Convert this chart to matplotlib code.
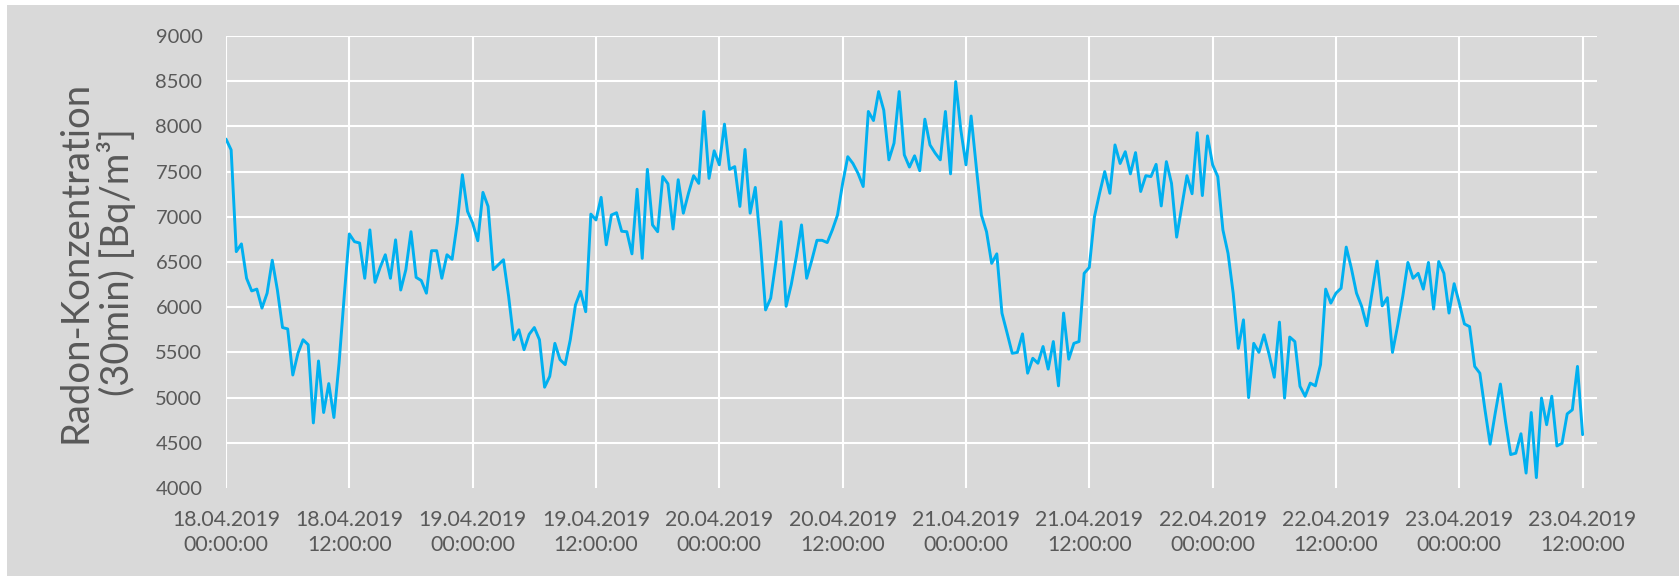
import numpy as np
import pandas as pd
import matplotlib
matplotlib.use("Agg")
import matplotlib.pyplot as plt
import matplotlib.dates as mdates
from matplotlib.patches import Rectangle

plt.rcParams['font.family'] = ['Lato', 'DejaVu Sans']

# Radon-Konzentration, 30-min-Werte ab 18.04.2019 00:00 (je Zeile 12 Stunden)
radon = [
    7860, 7740, 6615, 6700, 6320, 6180, 6200, 5990, 6155, 6520, 6190, 5775,
    5760, 5250, 5490, 5640, 5585, 4720, 5405, 4835, 5155, 4780, 5380, 6120,
    6810, 6725, 6710, 6320, 6855, 6275, 6440, 6580, 6320, 6745, 6190, 6415,
    6835, 6330, 6295, 6155, 6625, 6625, 6320, 6580, 6530, 6930, 7465, 7060,
    6930, 6735, 7270, 7115, 6415, 6470, 6525, 6120, 5640, 5750, 5530, 5700,
    5775, 5640, 5115, 5235, 5600, 5420, 5365, 5640, 6025, 6175, 5950, 7030,
    6965, 7215, 6690, 7020, 7045, 6840, 6835, 6590, 7305, 6540, 7525, 6910,
    6835, 7445, 7365, 6865, 7410, 7040, 7260, 7455, 7370, 8165, 7425, 7730,
    7575, 8025, 7525, 7555, 7115, 7745, 7040, 7325, 6710, 5970, 6100, 6500,
    6945, 6010, 6250, 6560, 6910, 6320, 6520, 6740, 6740, 6715, 6855, 7020,
    7370, 7665, 7590, 7480, 7335, 8165, 8065, 8385, 8180, 7630, 7815, 8385,
    7685, 7550, 7675, 7510, 8080, 7795, 7705, 7630, 8165, 7475, 8495, 7960,
    7575, 8115, 7555, 7020, 6835, 6485, 6590, 5935, 5715, 5490, 5500, 5705,
    5270, 5435, 5380, 5565, 5315, 5620, 5130, 5935, 5425, 5600, 5620, 6375,
    6440, 7000, 7260, 7500, 7260, 7795, 7590, 7720, 7475, 7710, 7280, 7455,
    7445, 7580, 7120, 7610, 7370, 6775, 7115, 7455, 7255, 7930, 7235, 7895,
    7575, 7445, 6855, 6595, 6155, 5545, 5860, 5000, 5600, 5500, 5695, 5475,
    5225, 5835, 4995, 5670, 5620, 5125, 5015, 5160, 5130, 5365, 6200, 6045,
    6155, 6210, 6665, 6430, 6155, 6010, 5795, 6150, 6510, 6015, 6105, 5500,
    5795, 6120, 6495, 6320, 6375, 6200, 6495, 5980, 6505, 6375, 5935, 6260,
    6045, 5815, 5785, 5345, 5270, 4865, 4485, 4830, 5150, 4735, 4370, 4385,
    4600, 4165, 4835, 4115, 4995, 4700, 5015, 4465, 4495, 4820, 4865, 5345,
    4590,
]
zeit = pd.date_range("2019-04-18 00:00", periods=len(radon), freq="30min")

y_ticks = np.arange(4000, 9001, 500)

fig = plt.figure(figsize=(16.79, 5.76), dpi=100, facecolor="white")
# grauer Diagrammbereich (oben und links ein schmaler weisser Rand)
fig.patches.append(Rectangle((7 / 1679, 0), 1672 / 1679, 571 / 576,
                             transform=fig.transFigure, facecolor="#D9D9D9",
                             edgecolor="none", zorder=-10))

ax = fig.add_axes([226 / 1679, 88 / 576, 1371 / 1679, 452 / 576])
ax.set_facecolor("#D9D9D9")
ax.plot(zeit, radon, color="#00B0F0", linewidth=2.1, solid_joinstyle="round",
        solid_capstyle="round", zorder=3)

ax.set_ylim(4000, 9000)
ax.set_yticks(y_ticks)
ax.set_xlim(zeit[0], zeit[0] + pd.Timedelta(hours=133.4))
ax.xaxis.set_major_locator(mdates.HourLocator(byhour=[0, 12]))
ax.xaxis.set_major_formatter(mdates.DateFormatter("%d.%m.%Y\n%H:%M:%S"))

ax.grid(True, color="white", linewidth=1.5)
ax.set_axisbelow(True)
for s in ax.spines.values():
    s.set_visible(False)
ax.tick_params(axis="both", length=0, colors="#595959")
ax.tick_params(axis="y", pad=17, labelsize=14.5)
ax.tick_params(axis="x", pad=16, labelsize=15.3)
for lab in ax.get_xticklabels():
    lab.set_linespacing(1.3)

fig.canvas.draw()
ax.yaxis.get_gridlines()[0].set_visible(False)

fig.text(97 / 1679, 1 - 262 / 576, "Radon-Konzentration\n(30min) [Bq/m³]",
         rotation=90, ha="center", va="center", multialignment="center",
         fontsize=27.5, color="#595959", linespacing=1.1)

fig.savefig("out.png", dpi=100, facecolor=fig.get_facecolor())
